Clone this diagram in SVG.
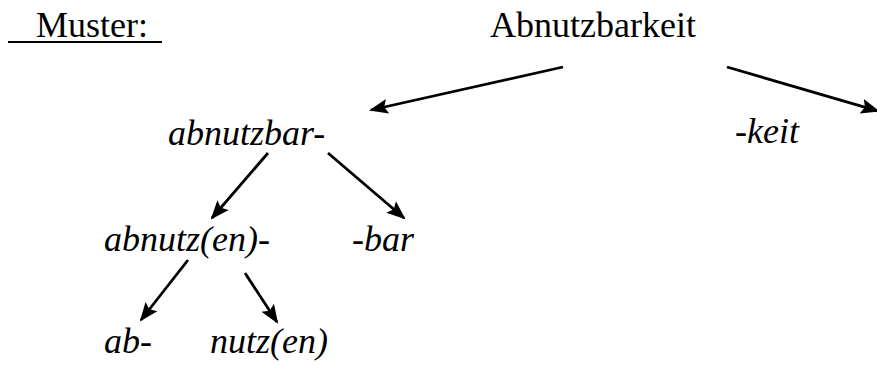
<svg xmlns="http://www.w3.org/2000/svg" width="877" height="365" viewBox="0 0 877 365">
<style>
  text { font-family: "Liberation Serif", "Times New Roman", serif; font-size: 36px; fill: #000; }
  .it { font-style: italic; }
  .edge { stroke: #000; stroke-width: 2.8; fill: none; marker-end: url(#ah); }
</style>
<defs>
  <marker id="ah" markerUnits="userSpaceOnUse" markerWidth="20" markerHeight="18" viewBox="0 0 20 18" refX="17" refY="9" orient="auto">
    <path d="M0,1.5 L19,9 L0,16.5 L3.5,9 Z" fill="#000"/>
  </marker>
</defs>
<rect width="877" height="365" fill="#fff"/>
<g id="title">
  <text x="36" y="37">Muster:</text>
  <line x1="8" y1="42" x2="162" y2="42" stroke="#000" stroke-width="2"/>
</g>
<g id="n-abnutzbarkeit"><text x="490" y="37">Abnutzbarkeit</text></g>
<g id="n-abnutzbar"><text class="it" x="168" y="145">abnutzbar-</text></g>
<g id="n-keit"><text class="it" x="735" y="143">-keit</text></g>
<g id="n-abnutzen"><text class="it" x="104" y="251">abnutz(en)-</text></g>
<g id="n-bar"><text class="it" x="352" y="251">-bar</text></g>
<g id="n-ab"><text class="it" x="104" y="353">ab-</text></g>
<g id="n-nutzen"><text class="it" x="210" y="353">nutz(en)</text></g>
<g id="connectors">
  <line class="edge" x1="563" y1="67" x2="371" y2="110"/>
  <line class="edge" x1="727" y1="67" x2="878" y2="111"/>
  <line class="edge" x1="268" y1="153" x2="212" y2="218"/>
  <line class="edge" x1="328" y1="153" x2="404" y2="218"/>
  <line class="edge" x1="188" y1="260" x2="141" y2="320"/>
  <line class="edge" x1="245" y1="273" x2="277" y2="322"/>
</g>
</svg>
